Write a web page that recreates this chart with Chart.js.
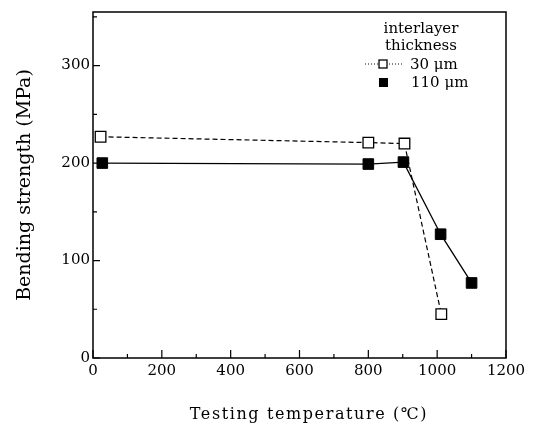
<!DOCTYPE html>
<html>
<head>
<meta charset="utf-8">
<script src="https://cdn.jsdelivr.net/npm/chart.js@4.4.1/dist/chart.umd.min.js"></script>
<style>
  body { margin: 0; background: #fff; }
  canvas { display: block; }
</style>
</head>
<body>
<canvas id="strengthChart" width="535" height="427"></canvas>
<script>
// interlayer 30 um (open squares, dashed)
const temps30 = [22, 800, 905, 1012];
const strength30 = [227, 221, 220, 45];
// interlayer 110 um (filled squares, solid)
const temps110 = [27, 800, 902, 1010, 1100];
const strength110 = [200, 199, 201, 127, 77];

const xTicks = [0, 200, 400, 600, 800, 1000, 1200];
const yTicks = [0, 100, 200, 300];

const legendTitle = ['interlayer', 'thickness'];
const seriesNames = ['30 \u03bcm', '110 \u03bcm'];
const xTitle = 'Testing temperature (\u2103)';
const yTitle = 'Bending strength (MPa)';

const serif = '"DejaVu Serif", "Liberation Serif", serif';

const toPoints = (xs, ys) => xs.map((x, i) => ({ x: x, y: ys[i] }));

const frameAndTicks = {
    id: 'frameAndTicks',
    afterDatasetsDraw(chart) {
        const ctx = chart.ctx;
        const { left, right, top, bottom } = chart.chartArea;
        const xs = chart.scales.x;
        const ys = chart.scales.y;
        ctx.save();
        ctx.strokeStyle = '#000';
        ctx.lineWidth = 1.5;
        ctx.strokeRect(left, top, right - left, bottom - top);

        ctx.lineWidth = 1.2;
        ctx.beginPath();
        for (let v = 0; v <= 1200; v += 100) {
            const px = xs.getPixelForValue(v);
            const len = v % 200 === 0 ? 8 : 4;
            ctx.moveTo(px, bottom);
            ctx.lineTo(px, bottom - len);
        }
        for (let v = 0; v <= 350; v += 50) {
            const py = ys.getPixelForValue(v);
            const len = v % 100 === 0 ? 7 : 4;
            ctx.moveTo(left, py);
            ctx.lineTo(left + len, py);
        }
        ctx.stroke();

        // x axis title
        ctx.fillStyle = '#000';
        ctx.font = '16px ' + serif;
        ctx.letterSpacing = '1.6px';
        ctx.textAlign = 'center';
        ctx.textBaseline = 'alphabetic';
        ctx.fillText(xTitle, 309, 419);
        ctx.letterSpacing = '0px';

        // legend
        ctx.font = '15px ' + serif;
        ctx.fillText(legendTitle[0], 421, 33);
        ctx.fillText(legendTitle[1], 421, 50);

        ctx.lineWidth = 1;
        ctx.setLineDash([1, 2]);
        ctx.beginPath();
        ctx.moveTo(365, 64);
        ctx.lineTo(402, 64);
        ctx.stroke();
        ctx.setLineDash([]);
        ctx.fillStyle = '#fff';
        ctx.fillRect(379, 60, 8, 8);
        ctx.lineWidth = 1.3;
        ctx.strokeRect(379, 60, 8, 8);
        ctx.fillStyle = '#000';
        ctx.fillRect(379, 78, 9, 9);

        ctx.textAlign = 'left';
        ctx.fillText(seriesNames[0], 410, 69);
        ctx.fillText(seriesNames[1], 411, 87);
        ctx.restore();
    }
};

const config = {
    type: 'scatter',
    data: {
        datasets: [{
            label: seriesNames[0],
            data: toPoints(temps30, strength30),
            showLine: true,
            borderColor: '#000',
            borderWidth: 1.2,
            borderDash: [5, 3],
            pointStyle: 'rect',
            pointRadius: 7.5,
            pointBackgroundColor: '#fff',
            pointBorderColor: '#000',
            pointBorderWidth: 1.3
        }, {
            label: seriesNames[1],
            data: toPoints(temps110, strength110),
            showLine: true,
            borderColor: '#000',
            borderWidth: 1.3,
            pointStyle: 'rect',
            pointRadius: 7.5,
            pointBackgroundColor: '#000',
            pointBorderColor: '#000',
            pointBorderWidth: 1
        }]
    },
    options: {
        responsive: false,
        animation: false,
        layout: { padding: { left: 0, right: 29, top: 7, bottom: 0 } },
        plugins: {
            legend: { display: false },
            tooltip: { enabled: false }
        },
        scales: {
            x: {
                type: 'linear',
                min: 0,
                max: 1200,
                afterBuildTicks: (scale) => {
                    scale.ticks = xTicks.map(v => ({ value: v }));
                },
                afterFit: (scale) => { scale.height = 69; },
                grid: { display: false, drawTicks: false },
                border: { display: false },
                ticks: {
                    color: '#000',
                    padding: 4,
                    maxRotation: 0,
                    callback: (v) => String(v),
                    font: { family: serif, size: 15 }
                }
            },
            y: {
                type: 'linear',
                min: 0,
                max: 355,
                afterBuildTicks: (scale) => {
                    scale.ticks = yTicks.map(v => ({ value: v }));
                },
                afterFit: (scale) => { scale.width = 93; },
                grid: { display: false, drawTicks: false },
                border: { display: false },
                ticks: {
                    color: '#000',
                    padding: 3,
                    callback: (v) => String(v),
                    font: { family: serif, size: 15 }
                },
                title: {
                    display: true,
                    text: yTitle,
                    color: '#000',
                    padding: { top: 14, bottom: 0 },
                    font: { family: serif, size: 19 }
                }
            }
        }
    },
    plugins: [frameAndTicks]
};

const strengthChart = new Chart(
    document.getElementById('strengthChart'),
    config
);
</script>
</body>
</html>
